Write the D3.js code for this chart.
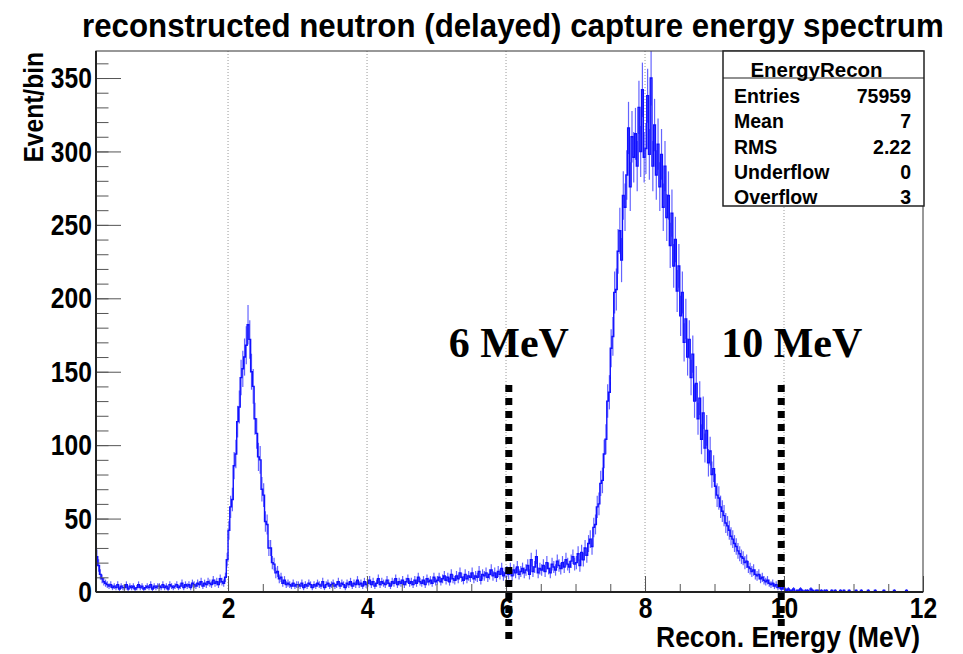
<!DOCTYPE html>
<html><head><meta charset="utf-8">
<script src="https://cdn.jsdelivr.net/npm/d3@7"></script>
<style>body{margin:0;background:#fff}svg{display:block}</style>
</head><body>
<svg id="c" width="963" height="654"></svg>
<script>
// ---------------- data ----------------
const titleText = "reconstructed neutron (delayed) capture energy spectrum";
const xLabel = "Recon. Energy (MeV)";
const yLabel = "Event/bin";
const binLow = 0.1, binWidth = 0.025, xMax = 12, yMax = 368.4;
// counts per bin, grouped by MeV
const c00 = [24,18,12,9,7,6,5,4,5,3, 4,3,5,2,4,3,3,5,2,4, 3,4,2,3,5,3,4,2,3,4, 3,5,2,4,3,4];
const c01 = [4,3,5,3,4,2,5,4,3,4, 5,3,4,6,3,5,4,5,3,6, 5,4,6,5,7,4,6,5,7,6, 5,8,6,7,5,9,7,6,10,22];
const c02 = [42,58,63,86,94,116,126,146,152,160, 168,182,172,150,140,118,108,92,90,70, 66,48,46,30,30,20,19,13,14,9, 10,6,8,5,6,5,4,6,4,5];
const c03 = [5,4,6,3,5,4,6,5,3,5, 4,6,5,4,7,3,5,6,4,5, 6,4,5,7,4,6,5,3,6,5, 7,4,6,5,8,5,6,4,7,5];
const c04 = [6,8,5,7,4,6,9,5,7,6, 5,8,6,4,7,6,9,5,7,6, 8,5,7,9,6,7,5,8,6,10, 7,6,8,5,9,7,8,6,10,7];
const c05 = [8,10,7,9,11,8,10,7,12,9, 8,11,9,13,10,8,12,9,11,10, 13,9,11,10,14,8,12,11,13,10, 12,15,11,13,10,14,12,16,11,13];
const c06 = [14,12,16,11,15,13,17,12,14,16, 13,15,18,12,22,14,17,24,13,16, 15,18,14,20,16,13,19,17,15,21, 18,16,20,17,22,19,17,21,24,19];
const c07 = [20,26,18,27,22,30,25,33,36,31, 44,46,58,60,74,76,94,104,130,136, 166,174,204,206,232,246,226,270,262,284, 316,276,310,296,312,290,330,300,342,296];
const c08 = [302,338,298,350,290,318,284,305,276,298, 262,290,255,270,236,258,222,240,205,222, 188,204,170,186,160,172,146,162,130,142, 118,132,104,122,98,110,88,96,80,84];
const c09 = [72,66,64,58,55,52,47,45,42,38, 36,33,31,28,26,24,23,20,21,17, 16,14,15,12,11,12,9,10,8,7, 8,6,5,6,4,5,3,4,2,3];
const c10 = [2,1,2,1,1,2,0,1,1,2, 1,0,1,1,0,2,1,0,1,1, 0,1,0,1,1,0,0,1,0,1, 0,0,1,0,1,0,0,1,0,0];
const c11 = [0,1,0,0,1,0,0,0,1,0, 0,0,1,0,0,0,0,1,0,0, 0,0,0,1,0,0,0,0,0,0, 1,0,0,0,0,0,0,0,0,0];
const counts = [].concat(c00,c01,c02,c03,c04,c05,c06,c07,c08,c09,c10,c11);

const xTicks = [2,4,6,8,10,12];
const xGrid = [2,4,6,8,10];
const yTicks = [0,50,100,150,200,250,300,350];
const statsTitle = "EnergyRecon";
const statsNames = ["Entries","Mean","RMS","Underflow","Overflow"];
const statsValues = ["75959","7","2.22","0","3"];
const cutEnergies = [6.04, 9.96];
const cutLabels = ["6 MeV","10 MeV"];

// ---------------- layout ----------------
const L = 96, R = 923, T = 51, B = 592;
const svg = d3.select("#c");
const x = d3.scaleLinear().domain([binLow, xMax]).range([L, R]);
const y = d3.scaleLinear().domain([0, yMax]).range([B, T]);
const SANS = "'Liberation Sans', Arial, Helvetica, sans-serif";
const SERIF = "'Liberation Serif', 'Times New Roman', serif";

svg.append("defs").append("clipPath").attr("id","plot")
  .append("rect").attr("x",L).attr("y",T).attr("width",R-L).attr("height",B-T);

// title (condensed by a horizontal scale to the reference width)
const tt = svg.append("text").text(titleText)
  .attr("font-family",SANS).attr("font-weight","bold").attr("font-size",34).attr("fill","#000");
const tw = tt.node().getComputedTextLength();
tt.attr("transform",`translate(82,37) scale(${862/tw},1)`);

// grid
svg.append("g").selectAll("line").data(xGrid).join("line")
  .attr("x1",d=>x(d)).attr("x2",d=>x(d)).attr("y1",B).attr("y2",T)
  .attr("stroke","#999").attr("stroke-width",1).attr("stroke-dasharray","1,2");

// histogram
const bins = counts.map((v,i)=>({x0: binLow + i*binWidth, x1: binLow + (i+1)*binWidth, v}));
const hg = svg.append("g").attr("clip-path","url(#plot)");
hg.selectAll("line.err").data(bins.filter(b=>b.v>0)).join("line").attr("class","err")
  .attr("x1",b=>x((b.x0+b.x1)/2)).attr("x2",b=>x((b.x0+b.x1)/2))
  .attr("y1",b=>y(Math.max(0,b.v-Math.sqrt(b.v)))).attr("y2",b=>y(b.v+Math.sqrt(b.v)))
  .attr("stroke","#3d3dff").attr("stroke-opacity",0.8).attr("stroke-width",1.2);
const pts = bins.map(b=>[b.x0,b.v]).concat([[bins[bins.length-1].x1, bins[bins.length-1].v]]);
hg.append("path")
  .attr("d", d3.line().x(d=>x(d[0])).y(d=>y(d[1])).curve(d3.curveStepAfter)(pts))
  .attr("fill","none").attr("stroke","#1010ff").attr("stroke-width",1.4);

// axes
const yMinor = d3.range(0, 361, 10);
const xMinor = d3.range(0.5, 12.01, 0.5);
const ya = svg.append("g").attr("transform",`translate(${L},0)`)
  .call(d3.axisLeft(y).tickValues(yTicks).tickSizeInner(-25).tickSizeOuter(0).tickPadding(5));
const yam = svg.append("g").attr("transform",`translate(${L},0)`)
  .call(d3.axisLeft(y).tickValues(yMinor).tickSizeInner(-12.5).tickSizeOuter(0).tickFormat(""));
const xa = svg.append("g").attr("transform",`translate(0,${B})`)
  .call(d3.axisBottom(x).tickValues(xTicks).tickSizeInner(-16).tickSizeOuter(0).tickPadding(5));
const xam = svg.append("g").attr("transform",`translate(0,${B})`)
  .call(d3.axisBottom(x).tickValues(xMinor).tickSizeInner(-8).tickSizeOuter(0).tickFormat(""));
[ya,yam,xa,xam].forEach(a=>{
  a.select(".domain").remove();
  a.selectAll(".tick line").attr("stroke","#555").attr("stroke-width",1);
});
[ya,xa].forEach(a=>a.selectAll(".tick text")
  .attr("font-family",SANS).attr("font-weight","bold").attr("font-size",30).attr("fill","#000")
  .attr("transform","scale(0.82,1)"));

// frame
svg.append("rect").attr("x",L).attr("y",T).attr("width",R-L).attr("height",B-T)
  .attr("fill","none").attr("stroke","#333").attr("stroke-width",1);
svg.append("line").attr("x1",L).attr("x2",L).attr("y1",T).attr("y2",B).attr("stroke","#222").attr("stroke-width",2);
svg.append("line").attr("x1",L).attr("x2",R).attr("y1",B).attr("y2",B).attr("stroke","#222").attr("stroke-width",2);

// axis titles
svg.append("text").text(yLabel)
  .attr("transform","translate(43,52) rotate(-90) scale(0.91,1)")
  .attr("text-anchor","end").attr("font-family",SANS).attr("font-weight","bold").attr("font-size",27);
svg.append("text").text(xLabel)
  .attr("transform","translate(920,647) scale(0.91,1)")
  .attr("text-anchor","end").attr("font-family",SANS).attr("font-weight","bold").attr("font-size",29);

// stats box
const sb = {x:723, y:51, w:201, h:155, head:78};
svg.append("rect").attr("x",sb.x).attr("y",sb.y).attr("width",sb.w).attr("height",sb.h)
  .attr("fill","#fff").attr("stroke","#222").attr("stroke-width",1.5);
svg.append("line").attr("x1",sb.x).attr("x2",sb.x+sb.w).attr("y1",sb.head).attr("y2",sb.head)
  .attr("stroke","#222").attr("stroke-width",1.2);
svg.append("text").text(statsTitle).attr("x",sb.x+sb.w/2-7).attr("y",77)
  .attr("text-anchor","middle").attr("font-family",SANS).attr("font-weight","bold").attr("font-size",20.5);
const rowY = d3.scaleLinear().domain([0,4]).range([103,204]);
svg.append("g").selectAll("text").data(statsNames).join("text").text(d=>d)
  .attr("x",sb.x+11).attr("y",(d,i)=>rowY(i))
  .attr("font-family",SANS).attr("font-weight","bold").attr("font-size",19.5);
svg.append("g").selectAll("text").data(statsValues).join("text").text(d=>d)
  .attr("x",sb.x+188).attr("y",(d,i)=>rowY(i)).attr("text-anchor","end")
  .attr("font-family",SANS).attr("font-weight","bold").attr("font-size",19.5);

// cut annotations
svg.append("g").selectAll("line").data(cutEnergies).join("line")
  .attr("x1",d=>x(d)).attr("x2",d=>x(d)).attr("y1",385).attr("y2",642)
  .attr("stroke","#000").attr("stroke-width",7).attr("stroke-dasharray","7,6");
svg.append("g").selectAll("text").data(cutLabels).join("text").text(d=>d)
  .attr("x",(d,i)=>x(cutEnergies[i])-60).attr("y",357)
  .attr("font-family",SERIF).attr("font-weight","bold").attr("font-size",42).attr("fill","#000");
</script>
</body></html>
